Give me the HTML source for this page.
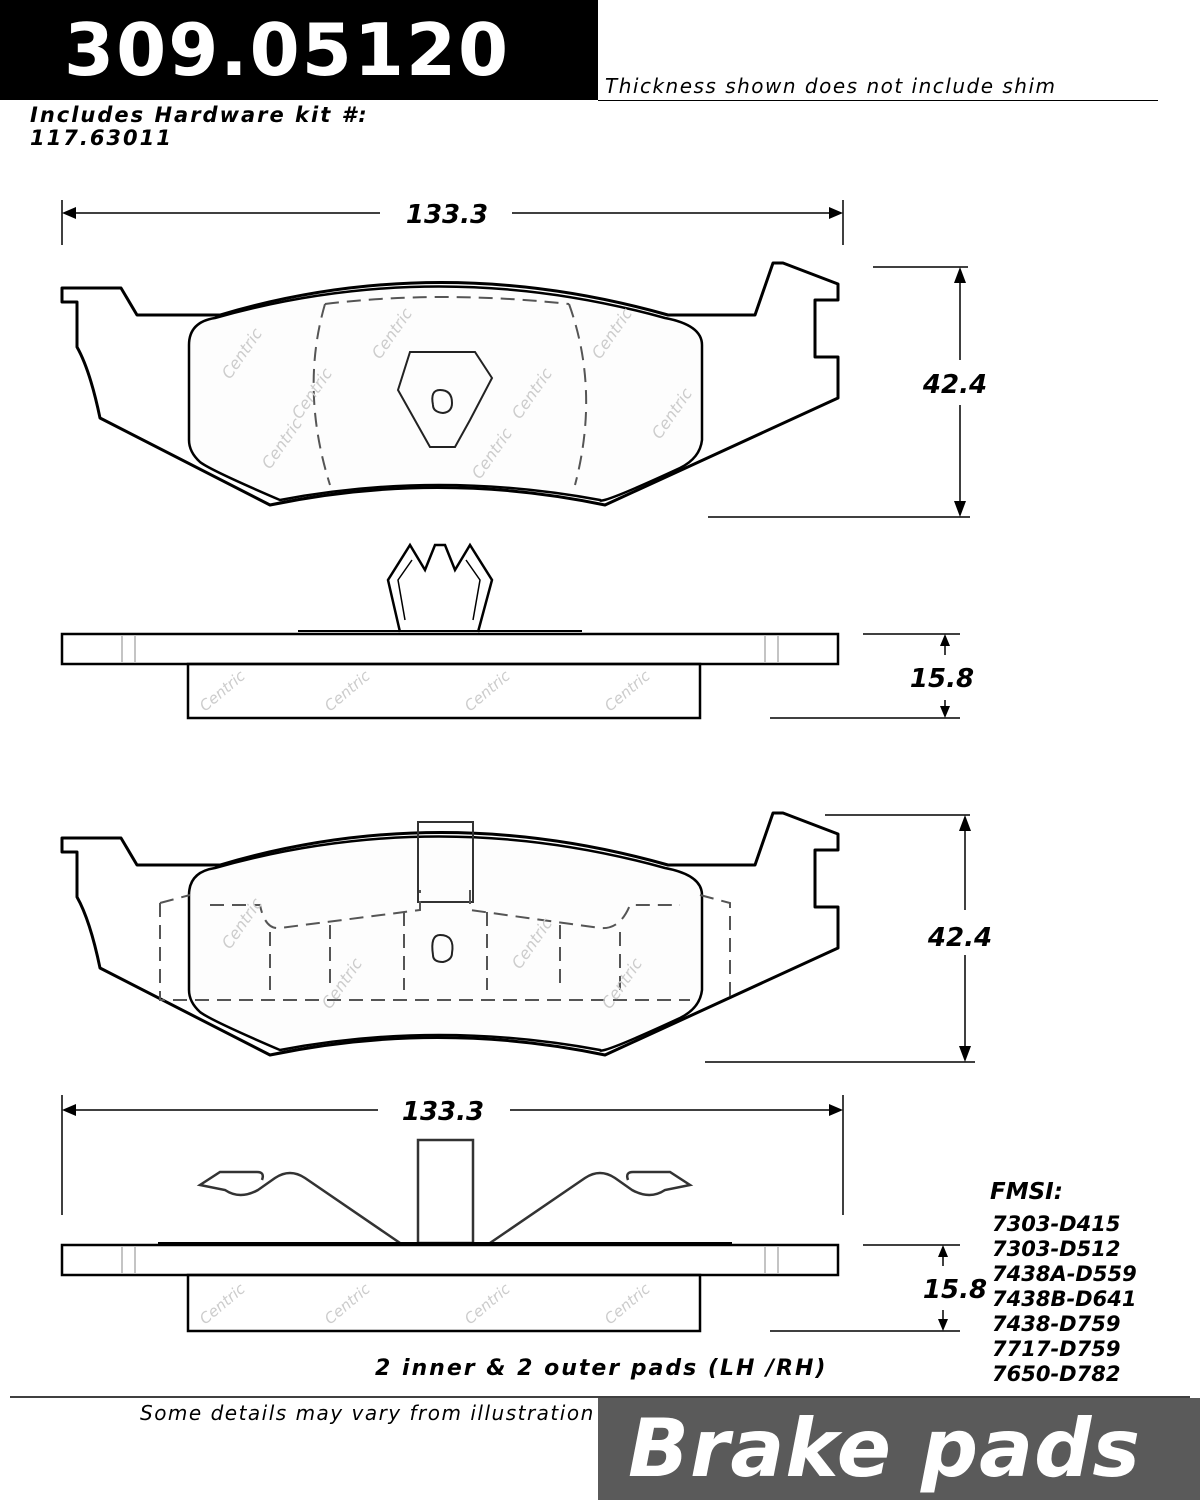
<!DOCTYPE html>
<html><head><meta charset="utf-8"><style>
html,body{margin:0;padding:0;background:#fff;}
body{width:1200px;height:1500px;position:relative;overflow:hidden;font-family:"DejaVu Sans","Liberation Sans",sans-serif;}
.t{position:absolute;white-space:nowrap;}
svg text{font-family:"DejaVu Sans","Liberation Sans",sans-serif;}
</style></head><body>
<div style="position:absolute;left:0;top:0;width:598px;height:100px;background:#000;"></div>
<div class="t" style="left:64px;top:8px;font-size:72px;font-weight:bold;color:#fff;letter-spacing:2px;">309.05120</div>
<div class="t" style="left:605px;top:74px;font-size:20px;font-style:italic;letter-spacing:1.5px;">Thickness shown does not include shim</div>
<div style="position:absolute;left:598px;top:100px;width:560px;height:1px;background:#000;"></div>
<div class="t" style="left:30px;top:104px;font-size:21px;font-weight:bold;font-style:italic;line-height:23px;letter-spacing:2px;">Includes Hardware kit #:<br>117.63011</div>

<svg width="1200" height="1500" style="position:absolute;left:0;top:0" xmlns="http://www.w3.org/2000/svg">
<defs>
<g id="plate">
<path d="M62,288 L121,288 L137,315 L220,315 Q438,250 668,315 L755,315 L773,263 L783,263 L838,284 L838,300 L815,300 L815,357 L838,357 L838,398 L605,505 Q438,470 270,505 L100,418 Q90,370 77,347 L77,302 L62,302 Z" fill="none" stroke="#000" stroke-width="3" stroke-linejoin="round"/>
</g>
<g id="lining">
<path d="M189,345 Q189,322 215,318 Q438,255 665,318 Q702,325 702,345 L702,440 Q700,458 680,468 Q600,505 600,500 Q438,470 280,500 Q210,470 200,462 Q189,452 189,440 Z" fill="#fdfdfd" stroke="#000" stroke-width="2.5"/>
</g>
</defs>
<g stroke="#000" fill="none" stroke-width="1.5">
<line x1="62" y1="200" x2="62" y2="245"/><line x1="843" y1="200" x2="843" y2="245"/>
<line x1="66" y1="213" x2="380" y2="213"/><line x1="512" y1="213" x2="838" y2="213"/>
</g>
<path d="M62,213 l14,-6 v12 z M843,213 l-14,-6 v12 z" fill="#000"/>
<text x="447" y="223" font-size="26" font-weight="bold" font-style="italic" text-anchor="middle">133.3</text>

<use href="#plate"/>
<use href="#lining"/>
<g fill="none" stroke="#555" stroke-width="2" stroke-dasharray="14,8">
<path d="M325,304 Q300,390 330,485"/><path d="M569,304 Q600,390 575,485"/><path d="M325,304 Q440,290 569,304"/>
</g>
<g fill="none" stroke="#222" stroke-width="2">
<path d="M410,352 L475,352 L492,378 L470,420 L455,447 L430,447 L398,390 Z"/>
<path d="M433,405 Q430,390 440,390 Q452,390 452,403 Q452,412 443,413 Q433,412 433,405"/>
</g>
<g font-size="16" fill="#ccc" font-style="italic">
<text transform="translate(230,380) rotate(-55)">Centric</text><text transform="translate(300,420) rotate(-55)">Centric</text><text transform="translate(380,360) rotate(-55)">Centric</text><text transform="translate(520,420) rotate(-55)">Centric</text><text transform="translate(600,360) rotate(-55)">Centric</text><text transform="translate(660,440) rotate(-55)">Centric</text><text transform="translate(270,470) rotate(-55)">Centric</text><text transform="translate(480,480) rotate(-55)">Centric</text>
</g>

<g stroke="#000" stroke-width="1.5"><line x1="873" y1="267" x2="968" y2="267"/><line x1="708" y1="517" x2="970" y2="517"/><line x1="960" y1="272" x2="960" y2="360"/><line x1="960" y1="405" x2="960" y2="512"/></g>
<path d="M960,267 l-6,16 h12 z M960,517 l-6,-16 h12 z" fill="#000"/>
<text x="955" y="393" font-size="26" font-weight="bold" font-style="italic" text-anchor="middle">42.4</text>

<g fill="none" stroke="#000" stroke-width="2.5">
<path d="M400,632 L388,580 L410,545 L425,570 L435,545 L445,545 L455,570 L470,545 L492,580 L478,632"/>
<path d="M405,620 L398,580 L412,560 M473,620 L480,580 L466,560" stroke-width="1.5"/>
<line x1="298" y1="631" x2="582" y2="631" stroke-width="2"/>
<rect x="62" y="634" width="776" height="30"/>
<rect x="188" y="664" width="512" height="54"/>
</g>
<g stroke="#888" stroke-width="1"><line x1="122" y1="636" x2="122" y2="662"/><line x1="135" y1="636" x2="135" y2="662"/><line x1="765" y1="636" x2="765" y2="662"/><line x1="778" y1="636" x2="778" y2="662"/></g>
<g stroke="#000" stroke-width="1.5"><line x1="863" y1="634" x2="960" y2="634"/><line x1="770" y1="718" x2="960" y2="718"/><line x1="945" y1="638" x2="945" y2="655"/><line x1="945" y1="700" x2="945" y2="714"/></g>
<path d="M945,634 l-5,12 h10 z M945,718 l-5,-12 h10 z" fill="#000"/>
<text x="942" y="687" font-size="26" font-weight="bold" font-style="italic" text-anchor="middle">15.8</text>

<g transform="translate(0,550)">
<use href="#plate"/>
<use href="#lining"/>
<rect x="418" y="272" width="55" height="80" fill="none" stroke="#333" stroke-width="2"/>
<g fill="none" stroke="#555" stroke-width="2" stroke-dasharray="14,8">
<path d="M160,353 L190,345 M700,345 L730,353 L730,450 M160,353 L160,450 L195,450"/>
<line x1="195" y1="450" x2="690" y2="450"/>
<path d="M210,355 L260,355 Q265,380 280,378 L420,360 L420,340 M470,340 L470,360 L600,378 Q620,380 630,355 L680,355"/>
<line x1="270" y1="382" x2="270" y2="440"/><line x1="330" y1="375" x2="330" y2="440"/><line x1="404" y1="362" x2="404" y2="440"/><line x1="487" y1="362" x2="487" y2="440"/><line x1="560" y1="375" x2="560" y2="440"/><line x1="620" y1="382" x2="620" y2="440"/>
</g>
<path d="M433,405 Q430,385 440,385 Q455,385 452,403 Q452,410 443,412 Q433,412 433,405" fill="none" stroke="#222" stroke-width="2"/>
<g font-size="16" fill="#ccc" font-style="italic">
<text transform="translate(230,400) rotate(-55)">Centric</text><text transform="translate(330,460) rotate(-55)">Centric</text><text transform="translate(520,420) rotate(-55)">Centric</text><text transform="translate(610,460) rotate(-55)">Centric</text>
</g>
</g>
<g stroke="#000" stroke-width="1.5"><line x1="825" y1="815" x2="970" y2="815"/><line x1="705" y1="1062" x2="975" y2="1062"/><line x1="965" y1="820" x2="965" y2="910"/><line x1="965" y1="955" x2="965" y2="1057"/></g>
<path d="M965,815 l-6,16 h12 z M965,1062 l-6,-16 h12 z" fill="#000"/>
<text x="960" y="946" font-size="26" font-weight="bold" font-style="italic" text-anchor="middle">42.4</text>

<g stroke="#000" fill="none" stroke-width="1.5">
<line x1="62" y1="1095" x2="62" y2="1215"/><line x1="843" y1="1095" x2="843" y2="1215"/>
<line x1="66" y1="1110" x2="378" y2="1110"/><line x1="510" y1="1110" x2="838" y2="1110"/>
</g>
<path d="M62,1110 l14,-6 v12 z M843,1110 l-14,-6 v12 z" fill="#000"/>
<text x="443" y="1120" font-size="26" font-weight="bold" font-style="italic" text-anchor="middle">133.3</text>

<g fill="none" stroke="#333" stroke-width="2.5">
<rect x="418" y="1140" width="55" height="103"/>
<path d="M400,1243 L305,1178 Q290,1168 275,1178 L258,1190 Q240,1200 225,1190 L200,1185 L220,1172 L257,1172 Q265,1172 262,1180"/>
<path d="M490,1243 L585,1178 Q600,1168 615,1178 L632,1190 Q650,1200 665,1190 L690,1185 L670,1172 L633,1172 Q625,1172 628,1180"/>
</g>
<g fill="none" stroke="#000" stroke-width="2.5">
<line x1="158" y1="1243" x2="732" y2="1243" stroke-width="2"/>
<rect x="62" y="1245" width="776" height="30"/>
<rect x="188" y="1275" width="512" height="56"/>
</g>
<g stroke="#888" stroke-width="1"><line x1="122" y1="1247" x2="122" y2="1273"/><line x1="135" y1="1247" x2="135" y2="1273"/><line x1="765" y1="1247" x2="765" y2="1273"/><line x1="778" y1="1247" x2="778" y2="1273"/></g>
<g stroke="#000" stroke-width="1.5"><line x1="863" y1="1245" x2="960" y2="1245"/><line x1="770" y1="1331" x2="960" y2="1331"/><line x1="943" y1="1249" x2="943" y2="1266"/><line x1="943" y1="1310" x2="943" y2="1327"/></g>
<path d="M943,1245 l-5,12 h10 z M943,1331 l-5,-12 h10 z" fill="#000"/>
<text x="955" y="1298" font-size="26" font-weight="bold" font-style="italic" text-anchor="middle">15.8</text>
<g font-size="15" fill="#ccc" font-style="italic">
<text transform="translate(205,1325) rotate(-40)">Centric</text><text transform="translate(330,1325) rotate(-40)">Centric</text><text transform="translate(470,1325) rotate(-40)">Centric</text><text transform="translate(610,1325) rotate(-40)">Centric</text>
<text transform="translate(205,712) rotate(-40)">Centric</text><text transform="translate(330,712) rotate(-40)">Centric</text><text transform="translate(470,712) rotate(-40)">Centric</text><text transform="translate(610,712) rotate(-40)">Centric</text>
</g>
<line x1="10" y1="1397" x2="1190" y2="1397" stroke="#000" stroke-width="1.5"/>
</svg>

<div class="t" style="left:990px;top:1179px;font-size:23px;font-weight:bold;font-style:italic;">FMSI:</div>
<div class="t" style="left:992px;top:1212px;font-size:21px;font-weight:bold;font-style:italic;line-height:25px;">7303-D415<br>7303-D512<br>7438A-D559<br>7438B-D641<br>7438-D759<br>7717-D759<br>7650-D782</div>
<div class="t" style="left:375px;top:1356px;font-size:22px;font-weight:bold;font-style:italic;letter-spacing:2px;">2 inner &amp; 2 outer pads (LH /RH)</div>
<div class="t" style="left:140px;top:1401px;font-size:20px;font-style:italic;letter-spacing:1.5px;">Some details may vary from illustration</div>
<div style="position:absolute;left:598px;top:1398px;width:602px;height:102px;background:#5a5a5a;"></div>
<div class="t" style="left:628px;top:1402px;font-size:80px;font-weight:bold;font-style:italic;color:#fff;letter-spacing:1px;">Brake pads</div>
</body></html>
